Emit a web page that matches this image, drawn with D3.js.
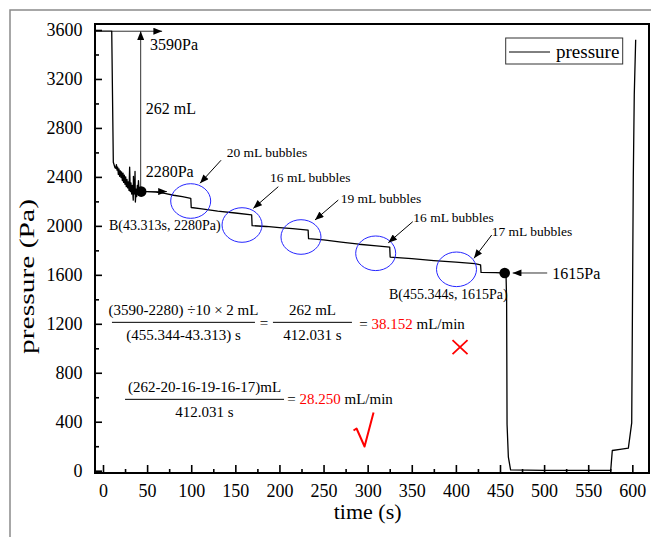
<!DOCTYPE html>
<html>
<head>
<meta charset="utf-8">
<script src="https://cdnjs.cloudflare.com/ajax/libs/d3/7.8.5/d3.min.js"></script>
<style>
  body { margin: 0; background: #fff; }
  svg { display: block; }
  text { font-family: "Liberation Serif", "Times New Roman", serif; fill: #000; }
</style>
</head>
<body>
<div id="chart"></div>
<script>
// Pressure record (time in s, pressure in Pa)
const timeS = [
  -9, 9.9, 11.7, 13.6, 14.5, 15.2, 15.9, 16.6, 17.4, 18.1, 18.8, 19.6, 20.4, 21.1, 21.9,
  22.7, 23.4, 24.2, 24.9, 25.7, 26.4, 27.2, 28.0, 28.7, 29.5, 30.2, 30.9, 31.7, 32.5, 33.2,
  34.3, 34.5, 35.2, 36.0, 36.3, 36.7, 37.5, 38.2, 38.9, 39.6, 40.2, 41.0, 41.8, 42.5, 43.3,
  50, 60, 70, 80, 90, 99.5, 100, 110, 130, 150, 168.5, 169, 185, 200, 215, 232.5, 233,
  250, 270, 290, 310, 325, 325.5, 350, 375, 400, 421.5, 428, 428.5, 445, 455.3,
  456.8, 457.5, 458, 459.5, 462, 500, 540, 575.5, 577.3, 586, 595.5, 599.3, 601.1, 602.2, 603.8
];
const pressurePa = [
  3590, 3590, 2520, 2475, 2470, 2500, 2455, 2480, 2420, 2465, 2405, 2450, 2395, 2440, 2370,
  2430, 2355, 2415, 2340, 2400, 2320, 2380, 2310, 2360, 2290, 2480, 2280, 2350, 2260, 2330,
  2210, 2405, 2260, 2340, 2445, 2195, 2300, 2240, 2330, 2270, 2370, 2260, 2300, 2270, 2280,
  2280, 2275, 2265, 2250, 2238, 2225, 2150, 2140, 2120, 2105, 2090, 2002, 1995, 1985, 1977, 1966, 1895,
  1885, 1868, 1850, 1837, 1827, 1745, 1732, 1716, 1703, 1692, 1682, 1620, 1618, 1615,
  1610, 1400, 380, 110, 6, 3, 2, 2, 165, 175, 185, 390, 2400, 3070, 3520
];

// Axis ticks
const xMajorTicks = d3.range(0, 601, 50);
const xMinorTicks = d3.range(25, 600, 50);
const yMajorTicks = d3.range(0, 3601, 400);
const yMinorTicks = d3.range(200, 3600, 400);

// Marked points B
const markT = [43.313, 455.344];
const markP = [2280, 1615];

// Bubble events: circle centre, label and arrow (label end -> tip)
const bubbleLabels = ['20 mL bubbles', '16 mL bubbles', '19 mL bubbles', '16 mL bubbles', '17 mL bubbles'];
const bubbleT = [99.4, 157.6, 224.4, 309.1, 400.7];
const bubbleP = [2203, 2007, 1909, 1776, 1645];
const bubbleLabelT = [140.2, 189.3, 269.4, 351.7, 440.6];
const bubbleLabelP = [2560, 2361, 2189, 2034, 1917];
const bubbleArrowFrom = [[133.8, 2536], [198.7, 2320], [266.7, 2211], [351.1, 2034], [440.6, 1925]];
const bubbleArrowTo = [[110.0, 2348], [170.4, 2143], [240.3, 2048], [323.4, 1862], [420.5, 1735]];

const W = 651, H = 537;
const MARGIN = { left: 95, top: 24, right: 2, bottom: 64 };

const svg = d3.select('#chart').append('svg')
  .attr('width', W)
  .attr('height', H);

// outer grey frame
svg.append('rect')
  .attr('x', 10).attr('y', 10)
  .attr('width', 700).attr('height', 600)
  .attr('fill', 'none')
  .attr('stroke', '#8a8a8a')
  .attr('stroke-width', 1.5);

const x = d3.scaleLinear().domain([-9.07, 618.9]).range([MARGIN.left, W - MARGIN.right]);
const y = d3.scaleLinear().domain([-18.8, 3649]).range([H - MARGIN.bottom, MARGIN.top]);

// arrow head marker
const defs = svg.append('defs');
defs.append('marker')
  .attr('id', 'head')
  .attr('viewBox', '0 0 10 8')
  .attr('refX', 10).attr('refY', 4)
  .attr('markerWidth', 10).attr('markerHeight', 7)
  .attr('markerUnits', 'userSpaceOnUse')
  .attr('orient', 'auto')
  .append('path')
  .attr('d', 'M0,0 L10,4 L0,8 Z')
  .attr('fill', '#000');

// axes (ticks point inward)
const xAxisY = H - MARGIN.bottom;
svg.append('g')
  .attr('transform', `translate(0,${xAxisY})`)
  .call(d3.axisBottom(x).tickValues(xMajorTicks).tickSize(-8).tickPadding(11).tickFormat(d3.format('d')))
  .call(g => g.select('.domain').remove())
  .call(g => g.selectAll('line').attr('stroke-width', 1.6))
  .call(g => g.selectAll('text').style('font-size', '18px').attr('font-family', null));

svg.append('g')
  .attr('transform', `translate(0,${xAxisY})`)
  .call(d3.axisBottom(x).tickValues(xMinorTicks).tickSize(-4).tickFormat(''))
  .call(g => g.select('.domain').remove())
  .call(g => g.selectAll('line').attr('stroke-width', 1.6));

svg.append('g')
  .attr('transform', `translate(${MARGIN.left},0)`)
  .call(d3.axisLeft(y).tickValues(yMajorTicks).tickSize(-7).tickPadding(12.5).tickFormat(d3.format('d')))
  .call(g => g.select('.domain').remove())
  .call(g => g.selectAll('line').attr('stroke-width', 1.6))
  .call(g => g.selectAll('text').style('font-size', '18px').attr('font-family', null));

svg.append('g')
  .attr('transform', `translate(${MARGIN.left},0)`)
  .call(d3.axisLeft(y).tickValues(yMinorTicks).tickSize(-4).tickFormat(''))
  .call(g => g.select('.domain').remove())
  .call(g => g.selectAll('line').attr('stroke-width', 1.6));

// plot frame
svg.append('rect')
  .attr('x', MARGIN.left).attr('y', MARGIN.top)
  .attr('width', W - MARGIN.left - MARGIN.right)
  .attr('height', H - MARGIN.top - MARGIN.bottom)
  .attr('fill', 'none')
  .attr('stroke', '#000')
  .attr('stroke-width', 2);

// axis titles
svg.append('text')
  .attr('transform', `translate(34,${(198 + 355) / 2}) rotate(-90)`)
  .attr('text-anchor', 'middle')
  .attr('textLength', 155)
  .attr('lengthAdjust', 'spacingAndGlyphs')
  .style('font-size', '20px')
  .text('pressure  (Pa)');

svg.append('text')
  .attr('x', x(300)).attr('y', 519)
  .attr('text-anchor', 'middle')
  .style('font-size', '22px')
  .text('time (s)');

// annotation arrows near the start
const arrows = [
  [[9.9, 3590], [67, 3590]],
  [[42.7, 2300], [42.7, 3590]],
  [[43.3, 2280], [72.5, 2280]],
  [[503.5, 1615], [464.4, 1615]]
];
arrows.forEach(a => {
  svg.append('line')
    .attr('x1', x(a[0][0])).attr('y1', y(a[0][1]))
    .attr('x2', x(a[1][0])).attr('y2', y(a[1][1]))
    .attr('stroke', '#333')
    .attr('stroke-width', 1)
    .attr('marker-end', 'url(#head)');
});

// pressure line
const idx = d3.range(timeS.length);
const line = d3.line()
  .x(i => x(timeS[i]))
  .y(i => y(pressurePa[i]));

svg.append('path')
  .datum(idx)
  .attr('d', line)
  .attr('fill', 'none')
  .attr('stroke', '#000')
  .attr('stroke-width', 1.3)
  .attr('stroke-linejoin', 'round');

// B points
markT.forEach((t, i) => {
  svg.append('circle')
    .attr('cx', x(t)).attr('cy', y(markP[i]))
    .attr('r', 5.3)
    .attr('fill', '#000');
});

// bubble circles and labels
bubbleLabels.forEach((lab, i) => {
  svg.append('ellipse')
    .attr('cx', x(bubbleT[i])).attr('cy', y(bubbleP[i]))
    .attr('rx', 20).attr('ry', 17.3)
    .attr('fill', 'none')
    .attr('stroke', '#2626ff')
    .attr('stroke-width', 1);

  svg.append('line')
    .attr('x1', x(bubbleArrowFrom[i][0])).attr('y1', y(bubbleArrowFrom[i][1]))
    .attr('x2', x(bubbleArrowTo[i][0])).attr('y2', y(bubbleArrowTo[i][1]))
    .attr('stroke', '#000')
    .attr('stroke-width', 1)
    .attr('marker-end', 'url(#head)');

  svg.append('text')
    .attr('x', x(bubbleLabelT[i])).attr('y', y(bubbleLabelP[i]))
    .style('font-size', '13.5px')
    .text(lab);
});

// point labels
const notes = [
  { t: 53.3, p: 3436, text: '3590Pa', size: 16 },
  { t: 48.4, p: 2914, text: '262 mL', size: 16 },
  { t: 48.4, p: 2402, text: '2280Pa', size: 16 },
  { t: 6.8, p: 1966, text: 'B(43.313s, 2280Pa)', size: 14 },
  { t: 509.3, p: 1566, text: '1615Pa', size: 16 },
  { t: 324.2, p: 1403, text: 'B(455.344s, 1615Pa)', size: 14 }
];
notes.forEach(n => {
  svg.append('text')
    .attr('x', x(n.t)).attr('y', y(n.p))
    .style('font-size', n.size + 'px')
    .text(n.text);
});

// fractions: bar centre (t, p), bar width, numerator, denominator
const fractions = [
  { t: 91.2, p: 1212, w: 143, num: '(3590-2280) \u00f710 \u00d7 2 mL', den: '(455.344-43.313) s', dn: 17.7 },
  { t: 237.4, p: 1212, w: 79, num: '262 mL', den: '412.031 s', dn: 17.7 },
  { t: 115.1, p: 583, w: 159, num: '(262-20-16-19-16-17)mL', den: '412.031 s', dn: 17.4 }
];
fractions.forEach(f => {
  const cx = x(f.t), cy = y(f.p);
  svg.append('line')
    .attr('x1', cx - f.w / 2).attr('x2', cx + f.w / 2)
    .attr('y1', cy).attr('y2', cy)
    .attr('stroke', '#000').attr('stroke-width', 1);
  svg.append('text')
    .attr('x', cx).attr('y', cy - 7.3)
    .attr('text-anchor', 'middle')
    .style('font-size', '15px')
    .text(f.num);
  svg.append('text')
    .attr('x', cx).attr('y', cy + f.dn)
    .attr('text-anchor', 'middle')
    .style('font-size', '15px')
    .text(f.den);
});

// results
const results = [
  { t: 177.6, p: 1168, parts: [['=', '#000']] },
  { t: 290.5, p: 1160, parts: [['= ', '#000'], ['38.152', '#ff0000'], [' mL/min', '#000']] },
  { t: 208.9, p: 545, parts: [['= ', '#000'], ['28.250', '#ff0000'], [' mL/min', '#000']] }
];
results.forEach(r => {
  const t = svg.append('text')
    .attr('x', x(r.t)).attr('y', y(r.p))
    .style('font-size', '15px')
    .attr('xml:space', 'preserve');
  r.parts.forEach(p => t.append('tspan').style('fill', p[1]).text(p[0]));
});

// red cross and check mark
const cross = { t: 404.7, p: 1010 };
const cx0 = x(cross.t), cy0 = y(cross.p);
svg.append('path')
  .attr('d', `M${cx0 - 7.5},${cy0 - 7} L${cx0 + 7.5},${cy0 + 7} M${cx0 + 7.5},${cy0 - 7} L${cx0 - 7.5},${cy0 + 7}`)
  .attr('stroke', '#ff0000')
  .attr('stroke-width', 1.8)
  .attr('fill', 'none');

const check = { t: 297.6, p: 320 };
const kx = x(check.t), ky = y(check.p);
svg.append('path')
  .attr('d', `M${kx - 12},${ky - 1} L${kx - 9},${ky - 3} L${kx - 1},${ky + 15} L${kx + 8},${ky - 19}`)
  .attr('stroke', '#ff0000')
  .attr('stroke-width', 2)
  .attr('stroke-linejoin', 'round')
  .attr('fill', 'none');

// legend
const legend = svg.append('g');
legend.append('rect')
  .attr('x', 505.7).attr('y', 38)
  .attr('width', 117).attr('height', 26)
  .attr('fill', '#fff')
  .attr('stroke', '#333')
  .attr('stroke-width', 1);
legend.append('line')
  .attr('x1', 509).attr('x2', 550)
  .attr('y1', 52).attr('y2', 52)
  .attr('stroke', '#000').attr('stroke-width', 1);
legend.append('text')
  .attr('x', 556).attr('y', 57.5)
  .style('font-size', '19px')
  .text('pressure');
</script>
</body>
</html>
